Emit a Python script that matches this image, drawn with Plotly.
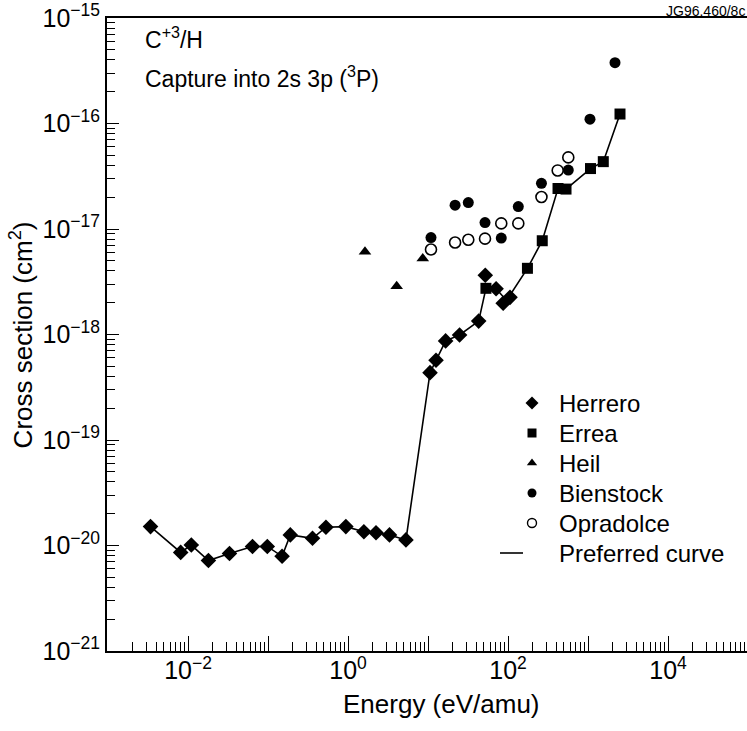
import plotly.graph_objects as go

# Charge-exchange cross sections, C+3 + H -> capture into 2s 3p (3P)
herrero_e = [0.0034, 0.0081, 0.011, 0.018, 0.033, 0.064, 0.098, 0.15, 0.19, 0.36,
             0.53, 0.94, 1.58, 2.24, 3.3, 5.3, 10.6, 12.6, 16.6, 24.8,
             43, 52, 71, 87, 106]
herrero_s = [1.51e-20, 8.6e-21, 1.01e-20, 7.2e-21, 8.4e-21, 9.8e-21, 9.8e-21, 7.9e-21, 1.26e-20, 1.17e-20,
             1.49e-20, 1.51e-20, 1.35e-20, 1.32e-20, 1.26e-20, 1.13e-20, 4.35e-19, 5.7e-19, 8.7e-19, 9.9e-19,
             1.34e-18, 3.64e-18, 2.71e-18, 1.98e-18, 2.25e-18]

errea_e = [53, 175, 268, 422, 531, 1075, 1553, 2512]
errea_s = [2.74e-18, 4.24e-18, 7.74e-18, 2.42e-17, 2.39e-17, 3.74e-17, 4.35e-17, 1.23e-16]

heil_e = [1.63, 4.06, 8.6]
heil_s = [6.1e-18, 2.86e-18, 5.25e-18]

bienstock_e = [10.9, 21.8, 31.9, 51.6, 82.4, 134.5, 262, 567, 1059, 2175]
bienstock_s = [8.3e-18, 1.68e-17, 1.78e-17, 1.15e-17, 8.2e-18, 1.63e-17, 2.71e-17, 3.62e-17, 1.10e-16, 3.77e-16]

opradolce_e = [10.9, 21.8, 31.9, 51.6, 82.4, 134.5, 262, 418, 567]
opradolce_s = [6.4e-18, 7.45e-18, 7.9e-18, 8.1e-18, 1.13e-17, 1.13e-17, 2.01e-17, 3.59e-17, 4.77e-17]

preferred_e = [0.0034, 0.0081, 0.011, 0.018, 0.033, 0.064, 0.098, 0.15, 0.19, 0.36,
               0.53, 0.94, 1.58, 2.24, 3.3, 5.3, 10.6, 12.6, 16.6, 24.8,
               43, 53, 71, 96, 175, 268, 422, 531, 1075, 1553, 2512]
preferred_s = [1.51e-20, 8.6e-21, 1.01e-20, 7.2e-21, 8.4e-21, 9.8e-21, 9.8e-21, 7.9e-21, 1.26e-20, 1.17e-20,
               1.49e-20, 1.51e-20, 1.35e-20, 1.32e-20, 1.26e-20, 1.13e-20, 4.35e-19, 5.7e-19, 8.7e-19, 9.9e-19,
               1.34e-18, 2.74e-18, 2.71e-18, 2.1e-18, 4.24e-18, 7.74e-18, 2.42e-17, 2.39e-17, 3.74e-17, 4.35e-17, 1.23e-16]

series_names = ["Herrero", "Errea", "Heil", "Bienstock", "Opradolce", "Preferred curve"]

x_decades = list(range(-3, 6))
x_labels = {-2: "10<sup>\u22122</sup>", 0: "10<sup>0</sup>", 2: "10<sup>2</sup>", 4: "10<sup>4</sup>"}
y_decades = list(range(-21, -14))

FONT = "Liberation Sans, Arial, Helvetica, sans-serif"
BLACK = "black"

# plot area in pixels (figure is 747 x 731)
PL, PR, PT, PB = 107, 747, 18, 651

styles = {
    "Herrero": dict(symbol="diamond", size=12, color=BLACK),
    "Errea": dict(symbol="square", size=11, color=BLACK),
    "Heil": dict(symbol="triangle-up", size=11, color=BLACK),
    "Bienstock": dict(symbol="circle", size=11, color=BLACK),
    "Opradolce": dict(symbol="circle-open", size=11, color=BLACK, line=dict(width=1.6, color=BLACK)),
}
# smaller symbols used in the key
key_styles = {
    "Herrero": dict(symbol="diamond", size=10, color=BLACK),
    "Errea": dict(symbol="square", size=9, color=BLACK),
    "Heil": dict(symbol="triangle-up", size=9, color=BLACK),
    "Bienstock": dict(symbol="circle", size=9, color=BLACK),
    "Opradolce": dict(symbol="circle-open", size=9, color=BLACK, line=dict(width=1.4, color=BLACK)),
}

fig = go.Figure()

fig.add_trace(go.Scatter(
    x=preferred_e, y=preferred_s, mode="lines", name="Preferred curve",
    line=dict(color=BLACK, width=1.6), showlegend=False))
for name, xs, ys in [("Herrero", herrero_e, herrero_s), ("Errea", errea_e, errea_s),
                     ("Heil", heil_e, heil_s), ("Bienstock", bienstock_e, bienstock_s),
                     ("Opradolce", opradolce_e, opradolce_s)]:
    fig.add_trace(go.Scatter(x=xs, y=ys, mode="markers", name=name,
                             marker=styles[name], showlegend=False))

# key drawn on a pixel-scaled overlay axis
KEY_X, KEY_TEXT_X, KEY_Y0, KEY_DY = 532, 557, 403, 30
annotations = []
for i, name in enumerate(series_names):
    ky = KEY_Y0 + KEY_DY * i
    if name == "Preferred curve":
        fig.add_trace(go.Scatter(x=[KEY_X - 32, KEY_X - 9], y=[ky, ky], mode="lines",
                                 line=dict(color=BLACK, width=1.6), xaxis="x2", yaxis="y2",
                                 showlegend=False, hoverinfo="skip"))
    else:
        fig.add_trace(go.Scatter(x=[KEY_X], y=[ky], mode="markers", marker=key_styles[name],
                                 xaxis="x2", yaxis="y2", showlegend=False, hoverinfo="skip"))
    annotations.append(dict(text=name, xref="x2", yref="y2", x=KEY_TEXT_X, y=ky,
                            xanchor="left", yanchor="middle", showarrow=False,
                            font=dict(family=FONT, size=24, color=BLACK)))

x_minor = [k * 10.0 ** n for n in range(-3, 5) for k in range(2, 10)]
y_minor = [k * 10.0 ** n for n in range(-21, -15) for k in range(2, 10)]

fig.update_layout(
    xaxis=dict(
        type="log", range=[-3.0125, 4.9875],
        tickmode="array", tickvals=[10.0 ** d for d in x_decades],
        ticktext=[x_labels.get(d, "") for d in x_decades],
        ticks="inside", ticklen=15, tickwidth=1.4, tickcolor=BLACK,
        minor=dict(tickmode="array", tickvals=x_minor, ticks="inside", ticklen=9,
                   tickwidth=1.2, tickcolor=BLACK, showgrid=False),
        showline=True, linewidth=2, linecolor=BLACK, mirror=True,
        showgrid=False, zeroline=False, ticklabelstandoff=-4,
        tickfont=dict(family=FONT, size=25, color=BLACK),
    ),
    yaxis=dict(
        type="log", range=[-21, -15],
        tickmode="array", tickvals=[10.0 ** d for d in y_decades],
        ticktext=["10<sup>\u2212%d</sup>" % (-d) for d in y_decades],
        ticks="inside", ticklen=12, tickwidth=1.4, tickcolor=BLACK,
        minor=dict(tickmode="array", tickvals=y_minor, ticks="inside", ticklen=8,
                   tickwidth=1.2, tickcolor=BLACK, showgrid=False),
        showline=True, linewidth=2, linecolor=BLACK, mirror=False,
        showgrid=False, zeroline=False,
        tickfont=dict(family=FONT, size=25, color=BLACK),
    ),
    xaxis2=dict(overlaying="x", range=[PL, PR], visible=False, fixedrange=True),
    yaxis2=dict(overlaying="y", range=[PB, PT], visible=False, fixedrange=True),
    width=747, height=731,
    margin=dict(l=PL, r=747 - PR, t=PT, b=731 - PB),
    paper_bgcolor="white", plot_bgcolor="white",
    font=dict(family=FONT, size=24, color=BLACK),
    showlegend=False,
    annotations=annotations + [
        dict(text="Energy (eV/amu)", xref="paper", yref="paper", x=0.523, y=-0.083,
             xanchor="center", yanchor="middle", showarrow=False,
             font=dict(family=FONT, size=26, color=BLACK)),
        dict(text="Cross section (cm<sup>2</sup>)", xref="paper", yref="paper", x=-0.133, y=0.5,
             xanchor="center", yanchor="middle", textangle=-90, showarrow=False,
             font=dict(family=FONT, size=26, color=BLACK)),
        dict(text="C<sup>+3</sup>/H", xref="paper", yref="paper", x=0.056, y=0.968,
             xanchor="left", yanchor="middle", showarrow=False,
             font=dict(family=FONT, size=23, color=BLACK)),
        dict(text="Capture into 2s 3p (<sup>3</sup>P)", xref="paper", yref="paper", x=0.056, y=0.907,
             xanchor="left", yanchor="middle", showarrow=False,
             font=dict(family=FONT, size=23, color=BLACK)),
        dict(text="JG96.460/8c", xref="paper", yref="paper", x=1.0, y=1.0,
             xanchor="right", yanchor="bottom", showarrow=False, yshift=-3,
             font=dict(family=FONT, size=14, color=BLACK)),
    ],
)

fig.write_html("out.html")
